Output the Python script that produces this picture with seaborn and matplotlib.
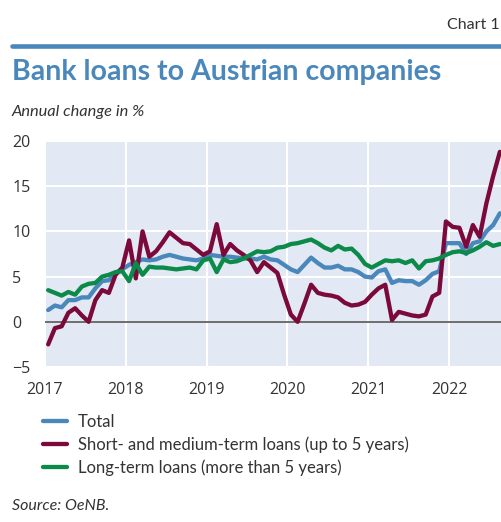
import numpy as np
import pandas as pd
import matplotlib
matplotlib.use("Agg")
import matplotlib.pyplot as plt
import seaborn as sns

# monthly data, Jan 2017 - Aug 2022, annual change in %
total = [1.3, 1.8, 1.6, 2.4, 2.4, 2.7, 2.7, 3.7, 4.5, 4.6, 5.4, 5.8,
         6.3, 6.6, 6.9, 6.8, 6.9, 7.2, 7.4, 7.2, 7.0, 6.9, 6.8, 7.0,
         7.4, 7.3, 7.2, 7.2, 7.1, 7.0, 7.0, 6.9, 7.2, 6.9, 6.8, 6.3,
         5.8, 5.5, 6.3, 7.1, 6.5, 6.0, 6.0, 6.2, 5.8, 5.8, 5.5, 5.0,
         4.9, 5.6, 5.8, 4.3, 4.6, 4.5, 4.5, 4.1, 4.6, 5.3, 5.6, 8.7,
         8.7, 8.7, 7.5, 8.7, 8.9, 10.0, 10.7, 12.0]
short_term = [-2.5, -0.7, -0.5, 1.0, 1.5, 0.7, 0.0, 2.4, 3.5, 3.2, 5.2, 6.0,
              9.0, 4.8, 10.0, 7.2, 7.8, 8.8, 9.9, 9.3, 8.7, 8.6, 8.0, 7.4,
              7.8, 10.8, 7.4, 8.6, 7.9, 7.4, 6.8, 5.5, 6.6, 6.0, 5.4, 3.0,
              0.8, 0.0, 2.0, 4.1, 3.2, 3.0, 2.9, 2.7, 2.1, 1.8, 1.9, 2.2,
              3.0, 3.7, 4.1, 0.2, 1.1, 0.9, 0.7, 0.6, 0.8, 2.8, 3.2, 11.1,
              10.5, 10.4, 8.3, 10.7, 9.4, 13.1, 16.1, 18.8]
long_term = [3.5, 3.2, 2.9, 3.3, 3.0, 3.9, 4.2, 4.3, 5.0, 5.2, 5.5, 5.6,
             4.5, 6.5, 5.2, 6.1, 6.0, 6.0, 5.9, 5.8, 5.9, 6.0, 5.8, 6.8,
             7.0, 5.5, 6.9, 6.6, 6.7, 7.0, 7.4, 7.8, 7.7, 7.8, 8.2, 8.3,
             8.6, 8.7, 8.9, 9.1, 8.7, 8.2, 7.9, 8.4, 8.0, 8.1, 7.4, 6.4,
             6.0, 6.4, 6.8, 6.7, 6.8, 6.5, 6.8, 5.9, 6.7, 6.8, 7.0, 7.4,
             7.7, 7.8, 7.6, 7.9, 8.3, 8.8, 8.4, 8.6]

labels = ["Total",
          "Short- and medium-term loans (up to 5 years)",
          "Long-term loans (more than 5 years)"]
colors = ["#4a87bb", "#7b0a3b", "#0b8a49"]
years = [2017, 2018, 2019, 2020, 2021, 2022]
yticks = [-5, 0, 5, 10, 15, 20]

n = len(total)
months = 2017 + (np.arange(n) + 0.5) / 12
df = pd.DataFrame({"month": months, labels[0]: total,
                   labels[1]: short_term, labels[2]: long_term})
long_df = df.melt(id_vars="month", var_name="series", value_name="value")

sns.set_style("white")
plt.rcParams["font.family"] = ["Lato", "DejaVu Sans"]

W, H = 501, 522
fig = plt.figure(figsize=(W / 100, H / 100), dpi=100)


def fx(px):
    return px / W


def fy(py):
    return 1 - py / H


ax = fig.add_axes([fx(44.8), fy(367), 1 - fx(44.8), fy(141) - fy(367)])
ax.set_facecolor("#e2e9f4")

# draw green first, red last so the red line sits on top
for i in [2, 0, 1]:
    sub = long_df[long_df["series"] == labels[i]]
    sns.lineplot(data=sub, x="month", y="value", color=colors[i],
                 linewidth=3.1, label=labels[i], ax=ax, zorder=3 + i)

ax.axhline(0, color="#555555", linewidth=1.2, zorder=2)
ax.set_xlim(2017, 2017 + (W - 44.8) / 80.9)
ax.set_ylim(-5, 20)
ax.set_xticks(years)
ax.set_xticklabels([str(y) for y in years])
ax.set_yticks(yticks)
ax.set_yticklabels([str(v).replace("-", "\u2212") for v in yticks])
ax.grid(True, color="white", linewidth=1.5, zorder=1)
ax.set_axisbelow(True)
for s in ax.spines.values():
    s.set_visible(False)
ax.set_xlabel("")
ax.set_ylabel("")
ax.tick_params(axis="both", length=0, labelsize=11.5, colors="#333333")
ax.tick_params(axis="x", pad=11)
ax.tick_params(axis="y", pad=23.5)
for t in ax.get_yticklabels():
    t.set_horizontalalignment("left")
    t.set_family("Open Sans")
for t in ax.get_xticklabels():
    t.set_family("Open Sans")

handles, labs = ax.get_legend_handles_labels()
order = [labs.index(l) for l in labels]
ax.legend([handles[k] for k in order], [labs[k] for k in order],
          loc="upper left", bbox_to_anchor=(fx(43), fy(414)),
          bbox_transform=fig.transFigure, frameon=False, fontsize=12,
          handlelength=1.45, handletextpad=0.65, labelspacing=0.38,
          borderpad=0, borderaxespad=0, labelcolor="#333333")

# header
fig.text(fx(500), fy(25), "Chart 1", ha="right", va="center",
         fontsize=11.5, color="#333333")
fig.add_artist(plt.Line2D([fx(12), 1], [fy(45.5), fy(45.5)],
                          color=colors[0], linewidth=3.3))
fig.text(fx(12), fy(72), "Bank loans to Austrian companies", ha="left",
         va="center", fontsize=20.5, fontweight="bold", color="#4a87bb")
fig.text(fx(12), fy(112), "Annual change in %", ha="left", va="center",
         fontsize=11.8, style="italic", color="#333333")
fig.text(fx(12), fy(506), "Source: OeNB.", ha="left", va="center",
         fontsize=11.5, style="italic", color="#333333")

fig.savefig("out.png", dpi=100)
